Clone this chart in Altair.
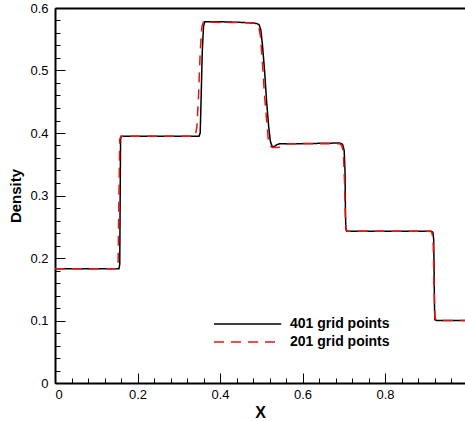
import altair as alt
import pandas as pd

# ---- data ----
x_401 = [0.0, 0.155, 0.157, 0.158, 0.159, 0.161, 0.349, 0.352, 0.354, 0.357, 0.360, 0.363,
         0.40, 0.45, 0.48, 0.490, 0.495, 0.499, 0.503, 0.508, 0.513, 0.518, 0.522, 0.526,
         0.531, 0.537, 0.545, 0.60, 0.690, 0.697, 0.701, 0.703, 0.704, 0.705, 0.707, 0.80,
         0.912, 0.916, 0.918, 0.919, 0.920, 0.921, 0.924, 1.0]
rho_401 = [0.183, 0.183, 0.19, 0.30, 0.39, 0.395, 0.395, 0.40, 0.45, 0.53, 0.57, 0.578,
           0.578, 0.577, 0.576, 0.575, 0.573, 0.565, 0.54, 0.50, 0.45, 0.41, 0.387, 0.379,
           0.378, 0.381, 0.383, 0.383, 0.384, 0.382, 0.372, 0.34, 0.28, 0.246, 0.243, 0.243,
           0.243, 0.241, 0.23, 0.18, 0.12, 0.101, 0.100, 0.100]

x_201 = [0.0, 0.150, 0.153, 0.155, 0.157, 0.160, 0.340, 0.344, 0.348, 0.352, 0.356, 0.360,
         0.40, 0.45, 0.48, 0.488, 0.494, 0.498, 0.503, 0.508, 0.513, 0.517, 0.521, 0.526,
         0.54, 0.55, 0.56, 0.57, 0.60, 0.690, 0.695, 0.699, 0.702, 0.704, 0.706, 0.71, 0.80,
         0.910, 0.914, 0.917, 0.919, 0.921, 0.924, 1.0]
rho_201 = [0.183, 0.183, 0.19, 0.30, 0.39, 0.395, 0.395, 0.41, 0.46, 0.53, 0.57, 0.578,
           0.577, 0.577, 0.576, 0.575, 0.570, 0.555, 0.51, 0.46, 0.42, 0.39, 0.38, 0.377,
           0.377, 0.378, 0.382, 0.383, 0.383, 0.383, 0.380, 0.37, 0.32, 0.26, 0.244, 0.243,
           0.243, 0.243, 0.240, 0.22, 0.15, 0.105, 0.100, 0.100]

series_names = ["401 grid points", "201 grid points"]
series_colors = ["#000000", "#ee1111"]

x_major = [0, 0.2, 0.4, 0.6, 0.8]
x_minor = [0, 0.04, 0.08, 0.12, 0.16, 0.2, 0.24, 0.28, 0.32, 0.36, 0.4, 0.44, 0.48,
           0.52, 0.56, 0.6, 0.64, 0.68, 0.72, 0.76, 0.8, 0.84, 0.88, 0.92, 0.96]
y_major = [0, 0.1, 0.2, 0.3, 0.4, 0.5, 0.6]
y_minor = [0, 0.02, 0.04, 0.06, 0.08, 0.1, 0.12, 0.14, 0.16, 0.18, 0.2, 0.22, 0.24,
           0.26, 0.28, 0.3, 0.32, 0.34, 0.36, 0.38, 0.4, 0.42, 0.44, 0.46, 0.48, 0.5,
           0.52, 0.54, 0.56, 0.58, 0.6]

df = pd.concat([
    pd.DataFrame({"x": x_401, "rho": rho_401, "series": series_names[0], "k": 0}),
    pd.DataFrame({"x": x_201, "rho": rho_201, "series": series_names[1], "k": 1}),
], ignore_index=True)

FONT = "Liberation Sans"
x_scale = alt.Scale(domain=[0, 0.9939], nice=False, zero=False)
y_scale = alt.Scale(domain=[0, 0.6], nice=False, zero=False)

legend = alt.Legend(
    title=None, orient="none", legendX=158, legendY=307, padding=0,
    symbolType="M-1,0H7.4", symbolSize=256, symbolStrokeWidth=1.5,
    labelFont=FONT, labelFontSize=14, labelFontWeight="bold", labelColor="black",
    labelOffset=59, rowPadding=2,
)

lines = alt.Chart(df).mark_line(strokeWidth=1.5, clip=True).encode(
    x=alt.X("x:Q", scale=x_scale, axis=alt.Axis(
        orient="bottom", values=x_major, format="~g", ticks=False, domain=True,
        domainColor="black", domainWidth=2, grid=False, labelFont=FONT, labelFontSize=13,
        labelColor="black", labelPadding=5, title="X", titleFont=FONT, titleFontSize=16,
        titleFontWeight="bold", titleColor="black", titlePadding=3)),
    y=alt.Y("rho:Q", scale=y_scale, axis=alt.Axis(
        orient="left", values=y_major, format="~g", ticks=False, domain=True,
        domainColor="black", domainWidth=2, grid=False, labelFont=FONT, labelFontSize=13,
        labelColor="black", labelPadding=7, title="Density", titleFont=FONT,
        titleFontSize=15, titleFontWeight="bold", titleColor="black", titlePadding=6)),
    color=alt.Color("series:N", scale=alt.Scale(domain=series_names, range=series_colors),
                    legend=legend),
    strokeDash=alt.StrokeDash("series:N", scale=alt.Scale(domain=series_names,
                                                          range=[[1, 0], [10, 7]]),
                              legend=legend),
    order=alt.Order("k:Q"),
)


def tick_layer(xvals, yvals, size):
    return alt.Chart(df).mark_point(opacity=0).encode(
        x=alt.X("x:Q", scale=x_scale, axis=alt.Axis(
            orient="bottom", values=xvals, tickSize=size, offset=-size, labels=False,
            domain=False, grid=False, title="", tickColor="black", tickWidth=1)),
        y=alt.Y("rho:Q", scale=y_scale, axis=alt.Axis(
            orient="left", values=yvals, tickSize=size, offset=-size, labels=False,
            domain=False, grid=False, title="", tickColor="black", tickWidth=1)),
    )


top_layer = alt.Chart(df).mark_point(opacity=0).encode(
    x=alt.X("x:Q", scale=x_scale, axis=alt.Axis(
        orient="top", ticks=False, labels=False, domain=True, domainColor="black",
        domainWidth=2, grid=False, title="")),
    y=alt.Y("rho:Q", scale=y_scale, axis=None),
)

chart = alt.layer(
    tick_layer(x_minor, y_minor, 5),
    tick_layer(x_major, y_major, 10),
    top_layer,
    lines,
).resolve_axis(x="independent", y="independent").properties(
    width=410, height=375,
    padding={"left": 55, "top": 8, "right": 0, "bottom": 38},
    autosize=alt.AutoSizeParams(type="none"),
    background="white",
).configure_view(stroke=None)

chart.save("out.html", embed_options={"renderer": "svg", "actions": False})
